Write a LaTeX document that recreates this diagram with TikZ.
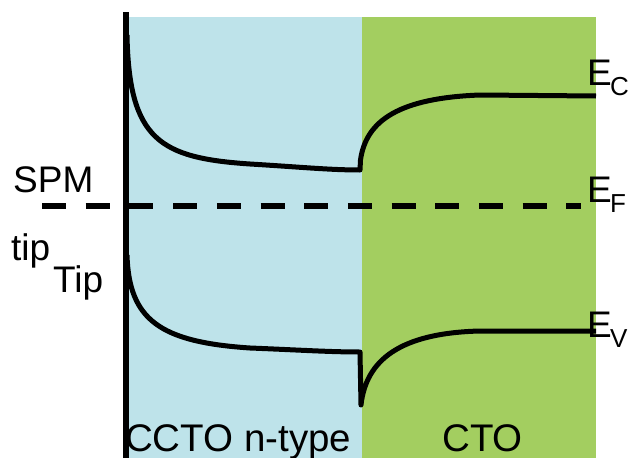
\documentclass[tikz,border=0pt]{standalone}
\usepackage{fontspec}
\setmainfont{Liberation Sans}
\definecolor{nregion}{HTML}{BEE3EA}
\definecolor{ctoregion}{HTML}{A3CE60}
\begin{document}
\begin{tikzpicture}[x=1pt,y=-1pt,
  band/.style={line width=5pt,line cap=butt,line join=round},
  lbl/.style={inner sep=0pt,anchor=base west,font=\fontsize{37}{40}\selectfont},
  biglbl/.style={inner sep=0pt,anchor=base west,font=\fontsize{38.5}{42}\selectfont},
  sublbl/.style={inner sep=0pt,anchor=base west,font=\fontsize{26}{30}\selectfont}]
\useasboundingbox (0,0) rectangle (630,458);
% material regions
\fill[nregion] (128,17) rectangle (362,458);
\fill[ctoregion] (362,17) rectangle (596,458);
% tip surface
\draw[line width=6pt] (126,12) -- (126,458);
% Fermi level
\coordinate (fl) at (42,206);
\coordinate (fr) at (581,206);
\draw[line width=6pt,dash pattern=on 24pt off 19.7pt] (fl) -- (fr);
% conduction band edge
\draw[band] (127,35) .. controls (129,140) and (160,158) .. (250,164)
  .. controls (300,167) and (330,170) .. (360,170) -- (360.5,160)
  .. controls (366,120) and (400,98) .. (480,95) -- (596,96);
% valence band edge
\draw[band] (127,255) .. controls (129,320) and (160,342) .. (250,348)
  .. controls (300,350) and (330,352) .. (360,352) -- (361,405)
  .. controls (366,360) and (400,333) .. (480,331) -- (596,331);
% labels
\node[lbl] (spm) at (13,192) {SPM};
\node[lbl] (tip) at (11,260) {tip};
\node[lbl] (Tip) at (53,292) {Tip};
\node[biglbl] (ccto) at (125,451) {CCTO n-type};
\node[biglbl] (cto) at (442,451) {CTO};
\node[lbl] (ec) at (587,85) {E};
\node[sublbl] (ecs) at (610,95) {C};
\node[lbl] (ef) at (587,202) {E};
\node[sublbl] (efs) at (610,212) {F};
\node[lbl] (ev) at (587,337) {E};
\node[sublbl] (evs) at (610,347) {V};
\end{tikzpicture}
\end{document}
